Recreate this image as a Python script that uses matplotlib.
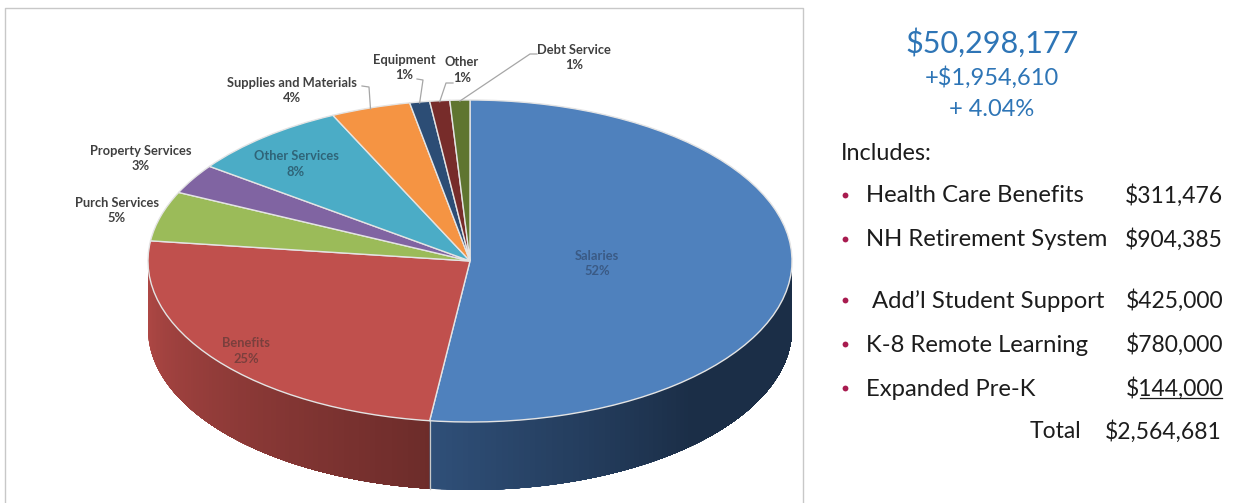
import numpy as np
import matplotlib
matplotlib.use('Agg')
import matplotlib.pyplot as plt
from matplotlib.colors import to_rgb

W, H = 1250, 503

categories = ['Salaries', 'Benefits', 'Purch Services', 'Property Services', 'Other Services',
              'Supplies and Materials', 'Equipment', 'Other', 'Debt Service']
shares = [52, 25, 5, 3, 8, 4, 1, 1, 1]
slice_colors = ['#4f81bd', '#c0504d', '#9bbb59', '#8064a2', '#4bacc6',
                '#f59443', '#2c4d75', '#772c2a', '#5f7530']

headline = ['$50,298,177', '+$1,954,610', '+ 4.04%']
items = ['Health Care Benefits', 'NH Retirement System', "Add\u2019l Student Support",
         'K-8 Remote Learning', 'Expanded Pre-K']
amounts = ['$311,476', '$904,385', '$425,000', '$780,000', '$144,000']
total_amount = '$2,564,681'

# pie geometry in pixels
cx, cy, rx, ry, depth = 470, 261, 322, 161, 68

fig = plt.figure(figsize=(W / 100, H / 100), dpi=100)
fig.patch.set_facecolor('white')

# unit-circle axes stretched so the pie becomes a flat ellipse
ax = fig.add_axes([0, 0, 1, 1])
wedges, _ = ax.pie(shares, colors=slice_colors, startangle=90, counterclock=False,
                   wedgeprops={'edgecolor': '#e4e4e4', 'linewidth': 1.0, 'zorder': 3})
ax.set_aspect('auto')
ax.set_xlim(-cx / rx, (W - cx) / rx)
ax.set_ylim((cy - H) / ry, cy / ry)
ax.axis('off')

# side wall, only the front half of the rim shows
d = depth / ry
rim_angles = np.arange(180, 361, 1.0)
wall_shades = {1: ('#ad4744', '#6c2c2a'), 0: ('#2f4f78', '#1b2e47')}
for i, (start, end) in wall_shades.items():
    t1, t2 = wedges[i].theta1 % 360, wedges[i].theta2 % 360
    if i == 0:
        lo, hi = t1, 360      # salaries runs from the seam to the right edge
        fade_from, fade_to = t1, t1 + 50
    else:
        lo, hi = 180, t2      # benefits runs from the left edge to the seam
        fade_from, fade_to = 185, t2
    c0, c1 = np.array(to_rgb(start)), np.array(to_rgb(end))
    # every band reaches to the far end of the slice so no gaps show between bands
    for a in np.arange(lo, hi, 1.0):
        f = np.clip((a - fade_from) / (fade_to - fade_from), 0, 1)
        col = c0 + (c1 - c0) * f
        arc = np.radians(np.linspace(a, hi, max(int(hi - a) + 2, 2)))
        xs = np.r_[np.cos(arc), np.cos(arc[::-1])]
        ys = np.r_[np.sin(arc), np.sin(arc[::-1]) - d]
        ax.fill(xs, ys, color=col, linewidth=0, zorder=1)

# seam between the two visible walls
seam = np.radians(wedges[0].theta1)
ax.plot([np.cos(seam)] * 2, [np.sin(seam), np.sin(seam) - d], color='#c9c9c9', lw=0.9, zorder=2)

# overlay in pixel coordinates for frame and text
ov = fig.add_axes([0, 0, 1, 1], facecolor='none')
ov.set_xlim(0, W)
ov.set_ylim(H, 0)
ov.axis('off')

ov.plot([5, 5, 803, 803], [H, 8, 8, H], color='#c8c8c8', lw=1.0)

label_font = 'Lato'
label_pos = [(597, 263.5), (246, 351), (117, 210.5), (141, 158.5), (296, 164),
             (292, 90.5), (404, 67.5), (462, 70), (574, 57.5)]
label_colors = ['#3a5a85', '#7a3f3d', '#404040', '#404040', '#2f6478',
                '#404040', '#404040', '#404040', '#404040']
for name, v, (x, y), c in zip(categories, shares, label_pos, label_colors):
    ov.text(x, y, f'{name}\n{v}%', ha='center', va='center', fontsize=9.3, fontweight='bold',
            family=label_font, color=c, linespacing=1.33)

# leader lines from the label to the rim of the slice
leaders = {5: [(362, 86), (369, 87)], 6: [(417, 79), (423, 80)],
           7: [(453, 83), (446, 83)], 8: [(537, 54), (530, 54)]}
for i, pts in leaders.items():
    mid = np.radians((wedges[i].theta1 + wedges[i].theta2) / 2)
    rim = (cx + rx * np.cos(mid), cy - ry * np.sin(mid) + 1)
    xs, ys = zip(*(pts + [rim]))
    ov.plot(xs, ys, color='#a6a6a6', lw=0.9)

# right hand panel
panel_font = 'Lato'
blue = '#2e75b6'
ink = '#1c1c1c'
ov.text(992, 43, headline[0], ha='center', va='center', fontsize=22, color=blue, family=panel_font)
ov.text(992, 78, headline[1], ha='center', va='center', fontsize=17, color=blue, family=panel_font)
ov.text(992, 109, headline[2], ha='center', va='center', fontsize=17, color=blue, family=panel_font)
ov.text(841, 153, 'Includes:', ha='left', va='center', fontsize=16.8, color=ink, family=panel_font)

row_y = [196, 240, 301, 345, 389]
row_x = [866, 866, 872, 866, 866]
for name, amt, y, x in zip(items, amounts, row_y, row_x):
    ov.plot([845], [y - 1], 'o', ms=4.2, color='#a81b4f', mew=0)
    ov.text(x, y, name, ha='left', va='center', fontsize=17.2, color=ink, family=panel_font)
    ov.text(1223, y, amt, ha='right', va='center', fontsize=16.5, color=ink, family=panel_font)

# the last amount is underlined above the total
ov.plot([1140, 1222], [398, 398], color=ink, lw=0.9)
ov.text(1030, 432, 'Total', ha='left', va='center', fontsize=16.5, color=ink, family=panel_font)
ov.text(1222, 432, total_amount, ha='right', va='center', fontsize=16.5, color=ink, family=panel_font)

fig.savefig('out.png', dpi=100)
